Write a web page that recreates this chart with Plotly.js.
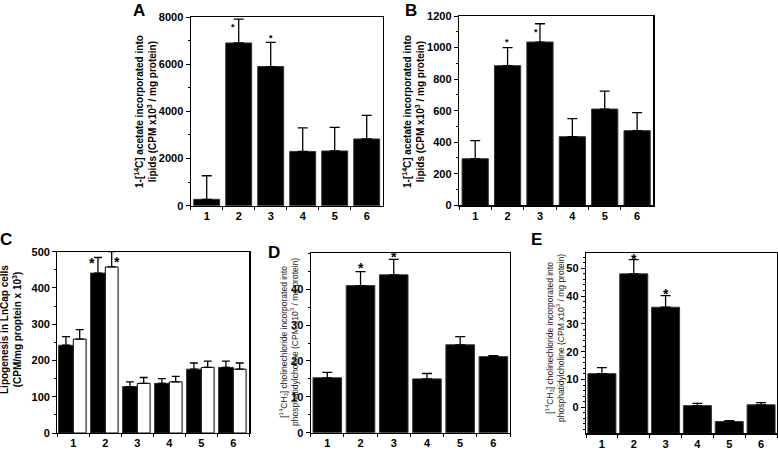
<!DOCTYPE html>
<html>
<head>
<meta charset="utf-8">
<script src="https://cdn.plot.ly/plotly-3.0.1.min.js"></script>
<style>html,body{margin:0;padding:0;background:#fff}#chart{width:778px;height:457px}</style>
</head>
<body>
<div id="chart"></div>
<script>
// ---------------- data ----------------
const categories = ['1', '2', '3', '4', '5', '6'];

const aValues = [270, 6900, 5900, 2300, 2320, 2830];
const aErrors = [1000, 1010, 1020, 1000, 1000, 1000];

const bValues = [295, 885, 1035, 435, 610, 473];
const bErrors = [115, 114, 116, 114, 114, 114];

const cBlack = [242, 441, 128, 137, 176, 181];
const cBlackErr = [24, 43, 13, 13, 17, 17];
const cWhite = [259, 458, 137, 141, 181, 176];
const cWhiteErr = [26, 42, 16, 15, 17, 17];

const dValues = [15.3, 41, 44, 15, 24.5, 21.2];
const dErrors = [1.5, 3.9, 4.3, 1.5, 2.3, 0.3];

const eValues = [12.1, 48, 36, 0.6, -5.1, 0.9];
const eErrors = [2.2, 5.1, 4.2, 0.8, 0.3, 0.8];
const eBase = -9.35;

const aTicks = [0, 2000, 4000, 6000, 8000];
const bTicks = [0, 200, 400, 600, 800, 1000, 1200];
const cTicks = [0, 100, 200, 300, 400, 500];
const dTicks = [0, 10, 20, 30, 40];
const eTicks = [0, 10, 20, 30, 40, 50];

// ---------------- layout helpers ----------------
const W = 778, H = 457;
const fx = p => p / W;
const fy = p => 1 - p / H;
const FONT = 'Arial, "Liberation Sans", Helvetica, sans-serif';
const catIndex = categories.map((c, i) => i);

function errUp(arr, w) {
  return {type: 'data', symmetric: false, array: arr, arrayminus: arr.map(() => 0),
          color: '#000', thickness: 1.3, width: w};
}
function barTrace(y, err, xa, ya, extra) {
  return Object.assign({
    type: 'bar', x: categories, y: y, xaxis: xa, yaxis: ya,
    marker: {color: '#000', line: {color: '#333', width: 1}},
    error_y: errUp(err, 5), showlegend: false, hoverinfo: 'skip'
  }, extra || {});
}

const traces = [
  barTrace(aValues, aErrors, 'x', 'y', {width: 0.81}),
  barTrace(bValues, bErrors, 'x2', 'y2', {width: 0.81}),
  barTrace(cBlack, cBlackErr, 'x3', 'y3', {width: 0.46, offset: -0.46, error_y: errUp(cBlackErr, 4)}),
  barTrace(cWhite, cWhiteErr, 'x3', 'y3', {width: 0.4, offset: 0.0,
    marker: {color: '#fff', line: {color: '#000', width: 1}}, error_y: errUp(cWhiteErr, 4)}),
  barTrace(dValues, dErrors, 'x4', 'y4', {width: 0.86}),
  barTrace(eValues.map(v => v - eBase), eErrors, 'x5', 'y5', {width: 0.88, base: eBase})
];

const tickFont = {family: FONT, size: 11, color: '#000', weight: 'bold'};

function xAxis(x0, x1, anchor) {
  return {
    domain: [fx(x0), fx(x1)], anchor: anchor, type: 'category',
    range: [-0.5, 5.5], tickson: 'boundaries', ticks: 'outside', ticklen: 3,
    tickcolor: '#000', showline: true, linecolor: '#000', linewidth: 1.2, mirror: true,
    showgrid: false, zeroline: false, tickfont: tickFont, fixedrange: true
  };
}
function yAxis(y0, y1, anchor, range, ticks, minor) {
  return {
    domain: [fy(y1), fy(y0)], anchor: anchor, range: range,
    tickmode: 'array', tickvals: ticks, ticks: 'outside', ticklen: 4, tickcolor: '#000',
    minor: {dtick: minor, tick0: 0, ticks: 'outside', ticklen: 2, tickcolor: '#000', showgrid: false},
    showline: true, linecolor: '#000', linewidth: 1.2, mirror: true,
    showgrid: false, zeroline: false, tickfont: tickFont, fixedrange: true
  };
}

const annotations = [];
function paperText(text, x, y, size, weight, angle, color) {
  annotations.push({
    xref: 'paper', yref: 'paper', x: fx(x), y: fy(y), text: text, showarrow: false,
    xanchor: 'center', yanchor: 'middle', textangle: angle || 0,
    font: {family: FONT, size: size, weight: weight, color: color || '#000'}
  });
}
function star(xa, ya, idx, values, errs, size, xs, ys) {
  annotations.push({
    xref: xa, yref: ya, x: catIndex[idx], y: values[idx] + errs[idx], text: '*',
    showarrow: false, xanchor: 'center', yanchor: 'middle', xshift: xs, yshift: ys,
    font: {family: FONT, size: size, weight: 'bold', color: '#000'}
  });
}

// panel letters
paperText('A', 139, 11, 17, 'bold');
paperText('B', 411, 11, 17, 'bold');
paperText('C', 6, 240, 17, 'bold');
paperText('D', 274, 252, 17, 'bold');
paperText('E', 536, 240, 17, 'bold');

// axis titles
paperText('1-[<sup>14</sup>C] acetate incorporated into<br>lipids (CPM x10<sup>3</sup> / mg protein)', 146, 112, 10, 'bold', -90);
paperText('1-[<sup>14</sup>C] acetate incorporated into<br>lipids (CPM x10<sup>3</sup> / mg protein)', 414, 112, 10, 'bold', -90);
paperText('Lipogenesis in LnCap cells<br>(CPM/mg proptein x 10<sup>3</sup>)', 11, 330, 10, 'bold', -90);
paperText('[<sup>14</sup>CH<sub>3</sub>] cholinechloride incorporated into<br>phosphatidylcholine (CPM x10<sup>3</sup> / mg protein)', 289, 342, 8.5, 'normal', -90, '#222');
paperText('[<sup>14</sup>CH<sub>3</sub>] cholinechloride incorporated into<br>phosphatidylcholine (CPM x10<sup>3</sup> / mg protein)', 555, 338, 8.5, 'normal', -90, '#222');

// significance stars
star('x', 'y', 1, aValues, aErrors, 9, -6, -8);
star('x', 'y', 2, aValues, aErrors, 9, 0, 4);
star('x2', 'y2', 1, bValues, bErrors, 9, -1, 6);
star('x2', 'y2', 2, bValues, bErrors, 9, -4, -8);
star('x3', 'y3', 1, cBlack, cBlackErr, 14, -13, -5);
star('x3', 'y3', 1, cWhite, cWhiteErr, 14, 12, -10);
star('x4', 'y4', 1, dValues, dErrors, 14, 0, 4);
star('x4', 'y4', 2, dValues, dErrors, 14, 0, 2);
star('x5', 'y5', 1, eValues, eErrors, 14, 0, 1);
star('x5', 'y5', 2, eValues, eErrors, 14, 0, 2);

const layout = {
  width: W, height: H, margin: {l: 0, r: 0, t: 0, b: 0},
  paper_bgcolor: '#fff', plot_bgcolor: '#fff', showlegend: false,
  barmode: 'group', font: {family: FONT, color: '#000'},
  xaxis: xAxis(190.7, 382.7, 'y'),
  yaxis: yAxis(17, 205.7, 'x', [0, 8000], aTicks, 1000),
  xaxis2: xAxis(459, 653.3, 'y2'),
  yaxis2: yAxis(16, 205.3, 'x2', [0, 1200], bTicks, 100),
  xaxis3: xAxis(57.3, 249.3, 'y3'),
  yaxis3: yAxis(251.7, 433, 'x3', [0, 500], cTicks, 50),
  xaxis4: xAxis(310.7, 510, 'y4'),
  yaxis4: yAxis(253.3, 432.7, 'x4', [0, 50], dTicks, 5),
  xaxis5: xAxis(586, 777, 'y5'),
  yaxis5: yAxis(253.3, 433.3, 'x5', [eBase, 55.4], eTicks, 2),
  annotations: annotations
};

Plotly.newPlot('chart', traces, layout, {staticPlot: true, displayModeBar: false});
</script>
</body>
</html>
